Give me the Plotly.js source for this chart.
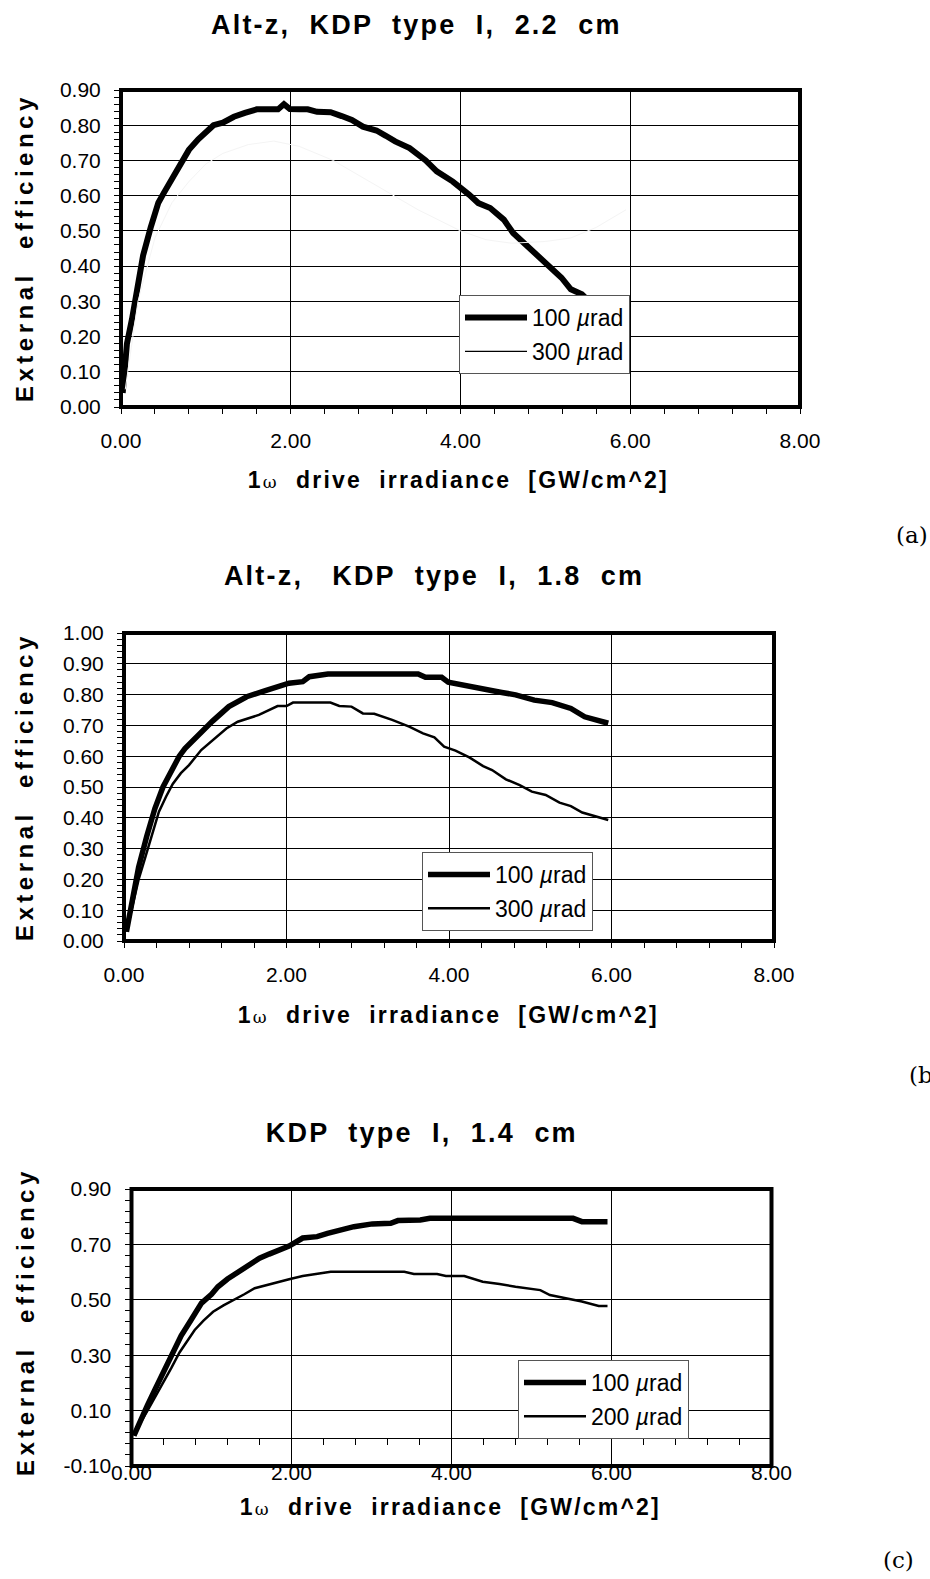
<!DOCTYPE html>
<html><head><meta charset="utf-8">
<script src="https://cdn.plot.ly/plotly-3.0.1.min.js"></script>
<style>html,body{margin:0;padding:0;background:#fff}</style>
</head><body><div id="chart" style="width:930px;height:1579px"></div>
<script>
// ---------- Panel (a): Alt-z, KDP type I, 2.2 cm ----------
const xA100 = [0.02,0.07,0.13,0.19,0.26,0.35,0.44,0.51,0.62,0.71,0.80,0.91,1.00,1.09,1.20,1.33,1.46,1.60,1.72,1.85,1.92,1.99,2.10,2.20,2.31,2.47,2.60,2.72,2.85,3.01,3.12,3.23,3.40,3.59,3.72,3.91,4.10,4.21,4.35,4.51,4.62,4.81,5.00,5.19,5.30,5.43,5.60,5.80,5.95];
const yA100 = [0.04,0.18,0.25,0.33,0.43,0.51,0.58,0.61,0.655,0.70,0.73,0.76,0.78,0.80,0.807,0.824,0.835,0.845,0.845,0.845,0.86,0.846,0.845,0.845,0.838,0.837,0.826,0.815,0.796,0.785,0.77,0.754,0.735,0.70,0.669,0.64,0.603,0.579,0.565,0.532,0.494,0.452,0.414,0.367,0.334,0.32,0.28,0.24,0.21];
const xA300 = [0.05,0.2,0.4,0.6,0.8,1.0,1.2,1.5,1.8,2.1,2.5,3.0,3.5,4.0,4.3,4.6,5.0,5.3,5.6,5.95];
const yA300 = [0.05,0.30,0.48,0.58,0.64,0.69,0.72,0.745,0.755,0.74,0.70,0.63,0.56,0.50,0.475,0.465,0.47,0.48,0.51,0.56];

// ---------- Panel (b): Alt-z, KDP type I, 1.8 cm ----------
const xB100 = [0.03,0.10,0.18,0.28,0.38,0.48,0.58,0.68,0.75,0.92,1.09,1.29,1.51,1.74,2.03,2.20,2.28,2.51,3.00,3.62,3.71,3.91,3.99,4.19,4.42,4.65,4.82,5.05,5.27,5.50,5.67,5.96];
const yB100 = [0.03,0.12,0.24,0.34,0.43,0.50,0.555,0.60,0.625,0.672,0.714,0.761,0.793,0.813,0.837,0.842,0.858,0.867,0.867,0.867,0.856,0.856,0.84,0.829,0.818,0.807,0.799,0.782,0.774,0.755,0.728,0.707];
const xB300 = [0.03,0.10,0.18,0.26,0.35,0.43,0.52,0.60,0.70,0.80,0.95,1.12,1.26,1.40,1.66,1.89,2.00,2.08,2.54,2.65,2.80,2.94,3.08,3.30,3.51,3.68,3.82,3.94,4.08,4.25,4.42,4.53,4.70,4.87,5.02,5.19,5.36,5.50,5.64,5.96];
const yB300 = [0.03,0.11,0.20,0.27,0.35,0.42,0.47,0.51,0.545,0.571,0.62,0.658,0.69,0.712,0.734,0.763,0.763,0.774,0.774,0.763,0.761,0.739,0.738,0.718,0.696,0.674,0.661,0.631,0.618,0.596,0.568,0.555,0.525,0.506,0.485,0.474,0.449,0.438,0.417,0.393];

// ---------- Panel (c): KDP type I, 1.4 cm ----------
const xC100 = [0.03,0.10,0.20,0.30,0.40,0.50,0.62,0.75,0.875,1.00,1.08,1.20,1.34,1.47,1.60,1.72,1.83,1.97,2.14,2.32,2.45,2.61,2.78,3.01,3.24,3.33,3.61,3.73,4.50,5.52,5.63,5.95];
const yC100 = [0.01,0.06,0.12,0.18,0.24,0.30,0.37,0.43,0.488,0.52,0.547,0.575,0.601,0.625,0.65,0.665,0.677,0.694,0.723,0.728,0.74,0.752,0.764,0.774,0.776,0.786,0.788,0.794,0.794,0.794,0.782,0.782];
const xC200 = [0.03,0.10,0.20,0.30,0.40,0.50,0.60,0.70,0.79,0.90,1.02,1.15,1.28,1.41,1.54,1.77,1.97,2.14,2.32,2.49,3.41,3.53,3.82,3.93,4.16,4.25,4.39,4.60,4.80,5.11,5.23,5.49,5.63,5.84,5.95];
const yC200 = [0.01,0.05,0.10,0.15,0.20,0.255,0.31,0.355,0.391,0.425,0.457,0.48,0.499,0.52,0.542,0.56,0.574,0.586,0.593,0.601,0.601,0.593,0.593,0.586,0.586,0.578,0.565,0.557,0.547,0.535,0.517,0.502,0.494,0.478,0.478];

// ---------- Tick labels ----------
const xTickVals = [0,2,4,6,8];
const xTickText = ['0.00','2.00','4.00','6.00','8.00'];
const yTicksA = [0,0.1,0.2,0.3,0.4,0.5,0.6,0.7,0.8,0.9];
const yTicksB = [0,0.1,0.2,0.3,0.4,0.5,0.6,0.7,0.8,0.9,1.0];
const yTicksC = [-0.1,0.1,0.3,0.5,0.7,0.9];

const titles = ['Alt-z,  KDP  type  I,  2.2  cm', 'Alt-z,   KDP  type  I,  1.8  cm', 'KDP  type  I,  1.4  cm'];
const xTitle = '1<span style="font-family:DejaVu Serif;font-weight:normal;font-size:17px">ω</span>  drive  irradiance  [GW/cm^2]';
const yTitle = 'External  efficiency';
const panelLabels = ['(a)', '(b)', '(c)'];

// ---------- Layout geometry (pixels) ----------
const W = 930, H = 1579;
const FONT = '"Liberation Sans", Arial, sans-serif';
const px = v => v / W, py = v => 1 - v / H;
const boxes = [
  {l:121, r:800, t:90, b:407},
  {l:124, r:774, t:633, b:941},
  {l:131.5, r:771.5, t:1189, b:1466}
];

function xAxis(i, extra) {
  const bx = boxes[i];
  return Object.assign({
    domain: [px(bx.l), px(bx.r)], range: [0, 8], tickmode: 'array',
    tickvals: xTickVals, ticktext: xTickText, showgrid: true, gridcolor: '#000', gridwidth: 1,
    zeroline: false, showline: false, ticks: 'outside', ticklen: 6, tickwidth: 1, tickcolor: '#000',
    minor: {dtick: 0.4, tick0: 0, ticks: 'outside', ticklen: 6, tickwidth: 1, tickcolor: '#000', showgrid: false},
    tickfont: {family: FONT, size: 21, color: '#000'}, ticklabelstandoff: 9, fixedrange: true
  }, extra || {});
}
function yAxis(i, range, ticks, minorDt, tick0) {
  const bx = boxes[i];
  return {
    domain: [py(bx.b), py(bx.t)], range: range, tickmode: 'array',
    tickvals: ticks, ticktext: ticks.map(v => v.toFixed(2)),
    showgrid: true, gridcolor: '#000', gridwidth: 1, zeroline: false, showline: false,
    ticks: 'outside', ticklen: 6, tickwidth: 1, tickcolor: '#000',
    minor: {dtick: minorDt, tick0: tick0, ticks: 'outside', ticklen: 6, tickwidth: 1, tickcolor: '#000', showgrid: false},
    tickfont: {family: FONT, size: 21, color: '#000'}, ticklabelstandoff: 9, fixedrange: true
  };
}

const muName = n => n + ' <i>µ</i>rad';
const traces = [
  {x: xA100, y: yA100, xaxis: 'x', yaxis: 'y', mode: 'lines', line: {color: '#000', width: 6}, name: muName('100'), legend: 'legend', legendgroup: 'a1'},
  {x: xA300, y: yA300, xaxis: 'x', yaxis: 'y', mode: 'lines', line: {color: '#f4f4f4', width: 1}, name: muName('300'), showlegend: false},
  {x: [null], y: [null], xaxis: 'x', yaxis: 'y', mode: 'lines', line: {color: '#000', width: 1.2}, name: muName('300'), legend: 'legend', legendgroup: 'a2'},
  {x: xB100, y: yB100, xaxis: 'x2', yaxis: 'y2', mode: 'lines', line: {color: '#000', width: 5.5}, name: muName('100'), legend: 'legend2', legendgroup: 'b1'},
  {x: xB300, y: yB300, xaxis: 'x2', yaxis: 'y2', mode: 'lines', line: {color: '#000', width: 2.5}, name: muName('300'), legend: 'legend2', legendgroup: 'b2'},
  {x: xC100, y: yC100, xaxis: 'x3', yaxis: 'y3', mode: 'lines', line: {color: '#000', width: 5.5}, name: muName('100'), legend: 'legend3', legendgroup: 'c1'},
  {x: xC200, y: yC200, xaxis: 'x3', yaxis: 'y3', mode: 'lines', line: {color: '#000', width: 2.5}, name: muName('200'), legend: 'legend3', legendgroup: 'c2'}
];

const legendBase = {bgcolor: '#fff', bordercolor: '#555', borderwidth: 1, xanchor: 'left', yanchor: 'top',
  font: {family: FONT, size: 23, color: '#000'}, tracegroupgap: 1, itemwidth: 62, itemclick: false, itemdoubleclick: false};

// y = 0 line position for panel (c), where its x axis crosses
const cb = boxes[2];
const cY0 = py(cb.b) + (0 - (-0.1)) / (0.9 - (-0.1)) * (py(cb.t) - py(cb.b));

const annotations = [];
const titleY = [25, 576, 1133], titleX = [416, 434, 422];
const xTitleY = [480, 1015, 1507], xTitleX = [458, 448, 450];
const yTitleY = [248, 787, 1322];
const labelPos = [[912, 535, 'center'], [907, 1075, 'left'], [898, 1560, 'center']];
for (let i = 0; i < 3; i++) {
  annotations.push({text: '<b>' + titles[i] + '</b>', x: px(titleX[i]), y: py(titleY[i]), xref: 'paper', yref: 'paper', showarrow: false,
    xanchor: 'center', yanchor: 'middle', font: {family: FONT, size: 27, color: '#000'}});
  annotations.push({text: '<b>' + xTitle + '</b>', x: px(xTitleX[i]), y: py(xTitleY[i]), xref: 'paper', yref: 'paper', showarrow: false,
    xanchor: 'center', yanchor: 'middle', font: {family: FONT, size: 23, color: '#000'}});
  annotations.push({text: '<b>' + yTitle + '</b>', x: px(25), y: py(yTitleY[i]), xref: 'paper', yref: 'paper', showarrow: false,
    textangle: -90, xanchor: 'center', yanchor: 'middle', font: {family: FONT, size: 24, color: '#000'}});
  annotations.push({text: panelLabels[i], x: px(labelPos[i][0]), y: py(labelPos[i][1]), xref: 'paper', yref: 'paper', showarrow: false,
    xanchor: labelPos[i][2], yanchor: 'middle', font: {family: 'DejaVu Serif, Liberation Serif, serif', size: 23, color: '#000'}});
}

const shapes = ['', '2', '3'].map(s => ({type: 'rect', xref: 'x' + s + ' domain', yref: 'y' + s + ' domain',
  x0: 0, x1: 1, y0: 0, y1: 1, line: {color: '#000', width: 4}, layer: 'above'}));

const layout = {
  width: W, height: H, margin: {l: 0, r: 0, t: 0, b: 0}, paper_bgcolor: '#fff', plot_bgcolor: '#fff',
  showlegend: true,
  xaxis: xAxis(0, {anchor: 'y'}),
  yaxis: Object.assign(yAxis(0, [0, 0.9], yTicksA, 0.02, 0), {anchor: 'x'}),
  xaxis2: xAxis(1, {anchor: 'y2'}),
  yaxis2: Object.assign(yAxis(1, [0, 1.0], yTicksB, 0.02, 0), {anchor: 'x2'}),
  xaxis3: xAxis(2, {anchor: 'free', position: cY0, showline: true, linecolor: '#000', linewidth: 1}),
  yaxis3: Object.assign(yAxis(2, [-0.1, 0.9], yTicksC, 0.04, -0.1), {anchor: 'x3'}),
  legend: Object.assign({}, legendBase, {x: px(459), y: py(295)}),
  legend2: Object.assign({}, legendBase, {x: px(422), y: py(852)}),
  legend3: Object.assign({}, legendBase, {x: px(518), y: py(1360)}),
  annotations: annotations,
  shapes: shapes
};

Plotly.newPlot('chart', traces, layout, {staticPlot: true, displayModeBar: false}).then(gd => {
  gd.querySelectorAll('.annotation-text').forEach(t => {
    const s = t.textContent;
    if (s.startsWith('(')) return;
    if (s.startsWith('External')) t.style.letterSpacing = '4.5px';
    else t.style.letterSpacing = '2.2px';
  });
});
</script>
</body></html>
